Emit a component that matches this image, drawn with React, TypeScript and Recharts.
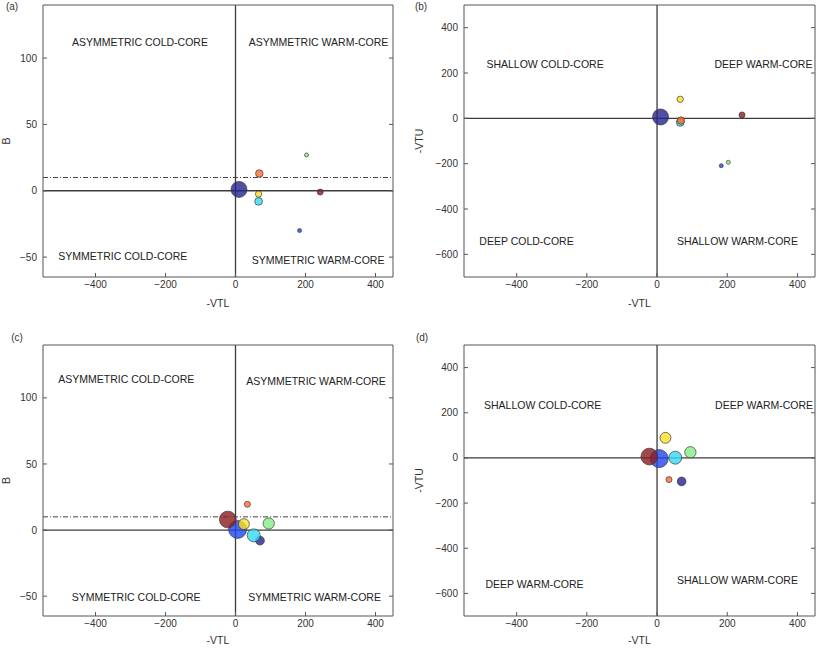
import React from "react";
import {
  ScatterChart,
  Scatter,
  XAxis,
  YAxis,
  ZAxis,
  Cell,
  ReferenceLine,
  ReferenceDot,
  Customized,
} from "recharts";

// one point per storm, same order in every array
const seriesNames = ["Navy", "Blue", "Cyan", "Green", "Yellow", "Orange", "Dark red"];

// panels (a) and (b)
const vtlAB = [10, 183, 66, 203, 66, 68, 242];
const bA = [1, -30, -8, 27, -2.5, 13, -1];
const vtuB = [6, -209, -18, -194, 84, -10, 15];
const sizeAB = [64, 4, 15, 4, 10, 14, 9];

// panels (c) and (d)
const vtlCD = [70, 6, 52, 95, 24, 34, -22];
const bC = [-8, 0.5, -4, 5, 4.5, 19.5, 8];
const vtuD = [-104, -3, 1, 25, 89, -96, 6];
const sizeCD = [19, 81, 42, 32, 30, 9, 70];

const vtlTicks = [-400, -200, 0, 200, 400];
const bTicks = [-50, 0, 50, 100];
const vtuTicks = [-600, -400, -200, 0, 200, 400];

const bQuadrants = [
  "ASYMMETRIC COLD-CORE",
  "ASYMMETRIC WARM-CORE",
  "SYMMETRIC COLD-CORE",
  "SYMMETRIC WARM-CORE",
];
const vtuQuadrantsB = ["SHALLOW COLD-CORE", "DEEP WARM-CORE", "DEEP COLD-CORE", "SHALLOW WARM-CORE"];
const vtuQuadrantsD = ["SHALLOW COLD-CORE", "DEEP WARM-CORE", "DEEP WARM-CORE", "SHALLOW WARM-CORE"];

const COLORS = ["#25238c", "#2146ee", "#35d8f4", "#86ec86", "#fbe024", "#ff6a2c", "#8a1d1f"];
const FONT = "'Liberation Sans', Arial, sans-serif";
const AXIS = "#555";
const X_DOMAIN: [number, number] = [-550, 450];

const fmt = (v: number) => (v < 0 ? `\u2212${Math.abs(v)}` : String(v));
const blank = () => "";

const rows = (xs: number[], ys: number[], zs: number[]) =>
  seriesNames.map((name, i) => ({ name, x: xs[i], y: ys[i], z: zs[i] }));

interface PanelProps {
  letter: string;
  data: { name: string; x: number; y: number; z: number }[];
  yDomain: [number, number];
  yTicks: number[];
  yLabel: string;
  quadrants: string[];
  quadPos: [number, number][];
  dashed?: boolean;
  left: number;
  top: number;
  width: number;
  height: number;
  yAxisWidth: number;
  xAxisHeight: number;
  margin: { top: number; right: number; bottom: number; left: number };
  xLabelOffset: number;
  letterPos: [number, number];
  yLabelX: number;
}

const Panel = (p: PanelProps) => {
  const plotMid = p.margin.top + (p.height - p.margin.top - p.margin.bottom - p.xAxisHeight) / 2;
  return (
    <div style={{ position: "absolute", left: p.left, top: p.top }}>
      <ScatterChart width={p.width} height={p.height} margin={p.margin}>
        <XAxis
          type="number"
          dataKey="x"
          domain={X_DOMAIN}
          ticks={vtlTicks}
          tickFormatter={fmt}
          height={p.xAxisHeight}
          tickSize={-4}
          tickMargin={8}
          stroke={AXIS}
          tick={{ fill: "#333", fontSize: 10 }}
          allowDataOverflow
          label={{
            value: "-VTL",
            position: "insideBottom",
            offset: p.xLabelOffset,
            fill: "#333",
            fontSize: 10.5,
          }}
        />
        <YAxis
          type="number"
          dataKey="y"
          domain={p.yDomain}
          ticks={p.yTicks}
          tickFormatter={fmt}
          width={p.yAxisWidth}
          tickSize={-4}
          tickMargin={10}
          stroke={AXIS}
          tick={{ fill: "#333", fontSize: 10 }}
          allowDataOverflow
        />
        <XAxis
          xAxisId="top"
          orientation="top"
          mirror
          type="number"
          domain={X_DOMAIN}
          ticks={vtlTicks}
          tickFormatter={blank}
          tickSize={4}
          stroke={AXIS}
          allowDataOverflow
        />
        <YAxis
          yAxisId="right"
          orientation="right"
          mirror
          type="number"
          domain={p.yDomain}
          ticks={p.yTicks}
          tickFormatter={blank}
          tickSize={4}
          stroke={AXIS}
          allowDataOverflow
        />
        <ZAxis type="number" dataKey="z" domain={[0, 100]} range={[0, 100 * Math.PI]} />
        <ReferenceLine x={0} stroke="#3c3c3c" strokeWidth={1.3} />
        <ReferenceLine y={0} stroke="#3c3c3c" strokeWidth={1.3} />
        {p.dashed && (
          <ReferenceLine y={10} stroke="#444" strokeWidth={1} strokeDasharray="5 2 1 2" />
        )}
        {p.quadrants.map((q, i) => (
          <ReferenceDot
            key={i}
            x={p.quadPos[i][0]}
            y={p.quadPos[i][1]}
            r={0}
            fill="none"
            stroke="none"
            label={{ value: q, position: "center", fill: "#222", fontSize: 10.5 }}
          />
        ))}
        <Scatter data={p.data} isAnimationActive={false}>
          {p.data.map((d, i) => (
            <Cell key={d.name} fill={COLORS[i]} fillOpacity={0.8} stroke="#3a3a3a" strokeWidth={0.7} />
          ))}
        </Scatter>
        <Customized
          component={() => (
            <g fontFamily={FONT} fill="#333">
              <text x={p.letterPos[0]} y={p.letterPos[1]} fontSize={10} textAnchor="middle" dominantBaseline="central">
                {p.letter}
              </text>
              <text
                x={p.yLabelX}
                y={plotMid}
                fontSize={10.5}
                textAnchor="middle"
                dominantBaseline="central"
                transform={`rotate(-90 ${p.yLabelX} ${plotMid})`}
              >
                {p.yLabel}
              </text>
            </g>
          )}
        />
      </ScatterChart>
    </div>
  );
};

export default function App() {
  return (
    <div
      style={{
        position: "absolute",
        left: 0,
        top: 0,
        width: 817,
        height: 649,
        background: "#fff",
        fontFamily: FONT,
      }}
    >
      <Panel
        letter="(a)"
        data={rows(vtlAB, bA, sizeAB)}
        yDomain={[-65, 140]}
        yTicks={bTicks}
        yLabel="B"
        quadrants={bQuadrants}
        quadPos={[[-273, 112], [237, 112], [-322, -49.5], [236, -52.5]]}
        dashed
        left={0}
        top={0}
        width={408}
        height={330}
        yAxisWidth={43}
        xAxisHeight={40}
        margin={{ top: 5, right: 15, bottom: 13, left: 0 }}
        xLabelOffset={10}
        letterPos={[12, 6]}
        yLabelX={6}
      />
      <Panel
        letter="(b)"
        data={rows(vtlAB, vtuB, sizeAB)}
        yDomain={[-700, 500]}
        yTicks={vtuTicks}
        yLabel="-VTU"
        quadrants={vtuQuadrantsB}
        quadPos={[[-319, 237], [303, 237], [-372, -544], [229, -544]]}
        left={408}
        top={0}
        width={409}
        height={330}
        yAxisWidth={56}
        xAxisHeight={40}
        margin={{ top: 5, right: 2, bottom: 13, left: 0 }}
        xLabelOffset={10}
        letterPos={[13, 6]}
        yLabelX={11}
      />
      <Panel
        letter="(c)"
        data={rows(vtlCD, bC, sizeCD)}
        yDomain={[-65, 140]}
        yTicks={bTicks}
        yLabel="B"
        quadrants={bQuadrants}
        quadPos={[[-312, 114], [230, 112.6], [-284, -51], [226, -51]]}
        dashed
        left={0}
        top={330}
        width={408}
        height={319}
        yAxisWidth={43}
        xAxisHeight={33}
        margin={{ top: 15, right: 15, bottom: 0, left: 0 }}
        xLabelOffset={5}
        letterPos={[17, 7]}
        yLabelX={6}
      />
      <Panel
        letter="(d)"
        data={rows(vtlCD, vtuD, sizeCD)}
        yDomain={[-700, 500]}
        yTicks={vtuTicks}
        yLabel="-VTU"
        quadrants={vtuQuadrantsD}
        quadPos={[[-326, 232], [305, 232], [-349, -560], [229, -540]]}
        left={408}
        top={330}
        width={409}
        height={319}
        yAxisWidth={56}
        xAxisHeight={33}
        margin={{ top: 15, right: 2, bottom: 0, left: 0 }}
        xLabelOffset={5}
        letterPos={[14, 7]}
        yLabelX={11}
      />
    </div>
  );
}
